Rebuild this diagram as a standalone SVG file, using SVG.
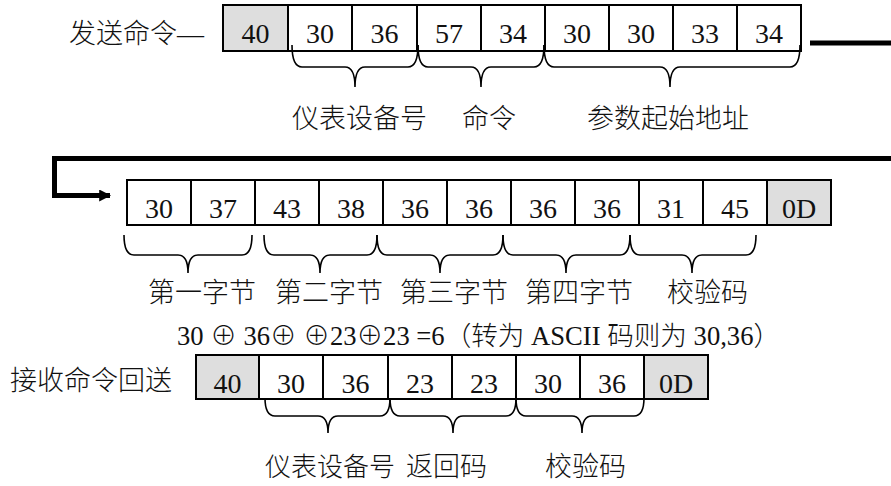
<svg xmlns="http://www.w3.org/2000/svg" width="891" height="486" viewBox="0 0 891 486">
<style>
.c{fill:#fff;stroke:#000;stroke-width:2}
.g{fill:#dedede;stroke:#000;stroke-width:2}
.n{font-family:"Liberation Serif","Noto Sans CJK SC",serif;font-size:28px;text-anchor:middle;fill:#111}
.t{font-family:"Liberation Serif","Noto Sans CJK SC",serif;font-size:27px;font-weight:300;fill:#111}
.b{fill:none;stroke:#000;stroke-width:1.6}
.a{fill:none;stroke:#000;stroke-width:5}
</style>
<defs>
<marker id="ah" viewBox="0 0 10 10" refX="9" refY="5" markerWidth="2.4" markerHeight="2.4" orient="auto" markerUnits="strokeWidth">
<path d="M0,0 L10,5 L0,10 z" fill="#000"/>
</marker>
</defs>
<g id="labels">
<text id="send-label" class="t" x="69" y="43">发送命令—</text>
<text id="recv-label" class="t" x="10" y="390">接收命令回送</text>
<text id="formula" class="t" x="177" y="345" style="font-size:26.6px">30 ⊕ 36⊕ ⊕23⊕23 =6（转为 ASCII 码则为 30,36）</text>
</g>
<g id="row1">
<g id="r1c1"><rect class="g" x="223" y="5" width="65" height="46"/><text class="n" x="255.5" y="43">40</text></g>
<g id="r1c2"><rect class="c" x="288" y="5" width="64" height="46"/><text class="n" x="320" y="43">30</text></g>
<g id="r1c3"><rect class="c" x="352" y="5" width="65" height="46"/><text class="n" x="384.5" y="43">36</text></g>
<g id="r1c4"><rect class="c" x="417" y="5" width="64" height="46"/><text class="n" x="449" y="43">57</text></g>
<g id="r1c5"><rect class="c" x="481" y="5" width="64" height="46"/><text class="n" x="513" y="43">34</text></g>
<g id="r1c6"><rect class="c" x="545" y="5" width="64" height="46"/><text class="n" x="577" y="43">30</text></g>
<g id="r1c7"><rect class="c" x="609" y="5" width="64" height="46"/><text class="n" x="641" y="43">30</text></g>
<g id="r1c8"><rect class="c" x="673" y="5" width="64" height="46"/><text class="n" x="705" y="43">33</text></g>
<g id="r1c9"><rect class="c" x="737" y="5" width="64" height="46"/><text class="n" x="769" y="43">34</text></g>
</g>
<g id="row1-braces">
<path class="b" d="M292,45 Q292,67 302,67 H345 Q355,67 355,87 Q355,67 365,67 H408 Q418,67 418,45"/>
<path class="b" d="M418,45 Q418,67 428,67 H471 Q481,67 481,87 Q481,67 491,67 H534 Q544,67 544,45"/>
<path class="b" d="M544,45 Q544,67 554,67 H660 Q670,67 670,87 Q670,67 680,67 H790 Q800,67 800,45"/>
</g>
<g id="row1-text">
<text class="t" x="292" y="128">仪表设备号</text>
<text class="t" x="462" y="128">命令</text>
<text class="t" x="587" y="128">参数起始地址</text>
</g>
<g id="row2">
<g id="r2c1"><rect class="c" x="127" y="180" width="64" height="45"/><text class="n" x="159" y="218">30</text></g>
<g id="r2c2"><rect class="c" x="191" y="180" width="64" height="45"/><text class="n" x="223" y="218">37</text></g>
<g id="r2c3"><rect class="c" x="255" y="180" width="64" height="45"/><text class="n" x="287" y="218">43</text></g>
<g id="r2c4"><rect class="c" x="319" y="180" width="64" height="45"/><text class="n" x="351" y="218">38</text></g>
<g id="r2c5"><rect class="c" x="383" y="180" width="64" height="45"/><text class="n" x="415" y="218">36</text></g>
<g id="r2c6"><rect class="c" x="447" y="180" width="64" height="45"/><text class="n" x="479" y="218">36</text></g>
<g id="r2c7"><rect class="c" x="511" y="180" width="64" height="45"/><text class="n" x="543" y="218">36</text></g>
<g id="r2c8"><rect class="c" x="575" y="180" width="64" height="45"/><text class="n" x="607" y="218">36</text></g>
<g id="r2c9"><rect class="c" x="639" y="180" width="64" height="45"/><text class="n" x="671" y="218">31</text></g>
<g id="r2c10"><rect class="c" x="703" y="180" width="64" height="45"/><text class="n" x="735" y="218">45</text></g>
<g id="r2c11"><rect class="g" x="767" y="180" width="64" height="45"/><text class="n" x="799" y="218">0D</text></g>
</g>
<g id="row2-braces">
<path class="b" d="M124,235 Q124,255 134,255 H178 Q188,255 188,273 Q188,255 198,255 H242 Q252,255 252,235"/>
<path class="b" d="M264,235 Q264,255 274,255 H310 Q320,255 320,273 Q320,255 330,255 H367 Q377,255 377,235"/>
<path class="b" d="M377,235 Q377,255 387,255 H430 Q440,255 440,273 Q440,255 450,255 H493 Q503,255 503,235"/>
<path class="b" d="M503,235 Q503,255 513,255 H556 Q566,255 566,273 Q566,255 576,255 H620 Q630,255 630,235"/>
<path class="b" d="M630,235 Q630,255 640,255 H682 Q692,255 692,273 Q692,255 702,255 H746 Q756,255 756,235"/>
</g>
<g id="row2-text">
<text class="t" x="148" y="302">第一字节</text>
<text class="t" x="275" y="302">第二字节</text>
<text class="t" x="400" y="302">第三字节</text>
<text class="t" x="525" y="302">第四字节</text>
<text class="t" x="667" y="302">校验码</text>
</g>
<g id="row3">
<g id="r3c1"><rect class="g" x="196" y="355" width="63" height="44"/><text class="n" x="227.5" y="393">40</text></g>
<g id="r3c2"><rect class="c" x="259" y="355" width="64" height="44"/><text class="n" x="291" y="393">30</text></g>
<g id="r3c3"><rect class="c" x="323" y="355" width="65" height="44"/><text class="n" x="355.5" y="393">36</text></g>
<g id="r3c4"><rect class="c" x="388" y="355" width="64" height="44"/><text class="n" x="420" y="393">23</text></g>
<g id="r3c5"><rect class="c" x="452" y="355" width="64" height="44"/><text class="n" x="484" y="393">23</text></g>
<g id="r3c6"><rect class="c" x="516" y="355" width="64" height="44"/><text class="n" x="548" y="393">30</text></g>
<g id="r3c7"><rect class="c" x="580" y="355" width="64" height="44"/><text class="n" x="612" y="393">36</text></g>
<g id="r3c8"><rect class="g" x="644" y="355" width="64" height="44"/><text class="n" x="676" y="393">0D</text></g>
</g>
<g id="row3-braces">
<path class="b" d="M265,398 Q265,416 275,416 H318 Q328,416 328,433 Q328,416 338,416 H380 Q390,416 390,398"/>
<path class="b" d="M390,398 Q390,416 400,416 H443 Q453,416 453,433 Q453,416 463,416 H506 Q516,416 516,398"/>
<path class="b" d="M516,398 Q516,416 526,416 H572 Q582,416 582,433 Q582,416 592,416 H634 Q644,416 644,398"/>
</g>
<g id="row3-text">
<text class="t" x="265" y="476" style="font-size:26px">仪表设备号</text>
<text class="t" x="406" y="476">返回码</text>
<text class="t" x="545" y="476">校验码</text>
</g>
<g id="connectors">
<path class="a" d="M810,43 H891"/>
<path class="a" d="M891,158.5 H54.5 V195.5 H110" marker-end="url(#ah)"/>
</g>
</svg>
